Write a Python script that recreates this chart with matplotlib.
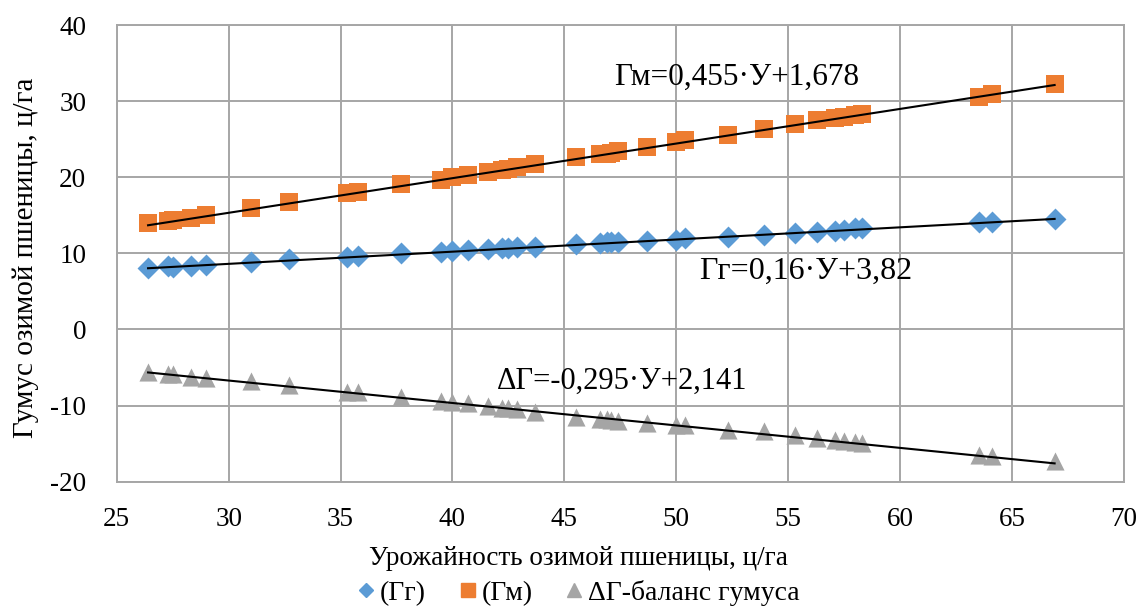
"""
Humus balance vs winter wheat yield: scatter with linear trend lines.
"""

import matplotlib
matplotlib.use("Agg")
import matplotlib.pyplot as plt
import numpy as np

# --- data ---
yield_x = [26.4, 27.3, 27.5, 28.3, 29.0, 31.0, 32.7, 35.3, 35.8, 37.7,
           39.5, 40.0, 40.7, 41.6, 42.2, 42.5, 42.9, 43.7, 45.5, 46.6,
           46.9, 47.1, 47.4, 48.7, 50.0, 50.4, 52.3, 53.9, 55.3, 56.3,
           57.1, 57.5, 58.0, 58.3, 63.5, 64.1, 66.9]

humus_gm = [14.0, 14.2, 14.4, 14.7, 15.1, 16.0, 16.7, 17.9, 18.1, 19.1,
            19.7, 20.0, 20.3, 20.7, 21.0, 21.1, 21.3, 21.7, 22.7, 23.0,
            23.1, 23.2, 23.5, 24.0, 24.6, 24.9, 25.6, 26.3, 27.0, 27.5,
            27.8, 27.9, 28.2, 28.3, 30.6, 31.0, 32.3]

humus_gg = [8.1, 8.3, 8.25, 8.3, 8.5, 8.8, 9.2, 9.5, 9.6, 10.0,
            10.2, 10.25, 10.4, 10.6, 10.65, 10.7, 10.8, 10.9, 11.2, 11.4,
            11.45, 11.5, 11.5, 11.6, 11.8, 12.0, 12.2, 12.4, 12.7, 12.8,
            13.0, 13.1, 13.3, 13.3, 14.1, 14.1, 14.5]

humus_dg = [-5.6, -5.8, -5.9, -6.2, -6.35, -6.8, -7.3, -8.2, -8.25, -8.85,
            -9.4, -9.5, -9.7, -10.1, -10.3, -10.35, -10.4, -10.8, -11.45, -11.7,
            -11.8, -11.9, -12.0, -12.3, -12.5, -12.6, -13.2, -13.4, -13.9, -14.3,
            -14.5, -14.6, -14.8, -14.9, -16.45, -16.65, -17.3]

# trend coefficients as printed on the chart (slope, intercept)
trend_gm = (0.455, 1.678)
trend_gg = (0.16, 3.82)
trend_dg = (-0.295, 2.141)

eq_gm = "Гм=0,455·У+1,678"
eq_gg = "Гг=0,16·У+3,82"
eq_dg = "ΔГ=-0,295·У+2,141"

legend_labels = ["(Гг)", "(Гм)", "ΔГ-баланс гумуса"]
x_ticks = [25, 30, 35, 40, 45, 50, 55, 60, 65, 70]
y_ticks = [-20, -10, 0, 10, 20, 30, 40]

COLORS = {
    "gg": "#5b9bd5",
    "gm": "#ed7d31",
    "dg": "#a5a5a5",
    "grid": "#a6a6a6",
}

plt.rcParams["font.family"] = ["Liberation Serif", "DejaVu Serif"]
plt.rcParams["axes.unicode_minus"] = False

fig = plt.figure(figsize=(11.41, 6.13), dpi=100)
ax = fig.add_axes([0.1023, 0.2142, 0.8828, 0.7450])

ax.scatter(yield_x, humus_gg, marker="D", s=125, color=COLORS["gg"], zorder=3, linewidths=0)
ax.scatter(yield_x, humus_gm, marker="s", s=175, color=COLORS["gm"], zorder=3, linewidths=0)
ax.scatter(yield_x, humus_dg, marker="^", s=170, color=COLORS["dg"], zorder=3, linewidths=0)

xs = np.array([min(yield_x), max(yield_x)])
for k, b in (trend_gm, trend_gg, trend_dg):
    ax.plot(xs, k * xs + b, color="black", lw=1.5, zorder=4)

ax.text(47.2, 33.1, eq_gm, fontsize=22.5, va="center", ha="left")
ax.text(51.0, 7.6, eq_gg, fontsize=23, va="center", ha="left")
ax.text(42.0, -6.8, eq_dg, fontsize=22, va="center", ha="left")

ax.set_xlim(25, 70)
ax.set_ylim(-20, 40)
ax.set_xticks(x_ticks)
ax.set_yticks(y_ticks)
ax.grid(True, color=COLORS["grid"], lw=1.4)
ax.set_axisbelow(True)
for sp in ax.spines.values():
    sp.set_color(COLORS["grid"])
    sp.set_linewidth(1.4)
ax.tick_params(length=0, labelsize=19.5)
ax.tick_params(axis="y", pad=22)
ax.tick_params(axis="x", pad=18)

ax.set_xlabel("Урожайность озимой пшеницы, ц/га", fontsize=19.5)
ax.xaxis.set_label_coords(0.458, -0.140)
ax.set_ylabel("Гумус озимой пшеницы, ц/га", fontsize=21)
ax.yaxis.set_label_coords(-0.077, 0.49)

handles = [
    plt.Line2D([], [], marker="D", ls="none", color=COLORS["gg"], markersize=7),
    plt.Line2D([], [], marker="s", ls="none", color=COLORS["gm"], markersize=10),
    plt.Line2D([], [], marker="^", ls="none", color=COLORS["dg"], markersize=10),
]
fig.legend(handles, legend_labels, loc="center", bbox_to_anchor=(576 / 1141, 1 - 593 / 613),
           ncol=3, frameon=False, fontsize=20, handletextpad=0.0, columnspacing=1.0,
           handlelength=1.0)

fig.savefig("out.png", dpi=100)
